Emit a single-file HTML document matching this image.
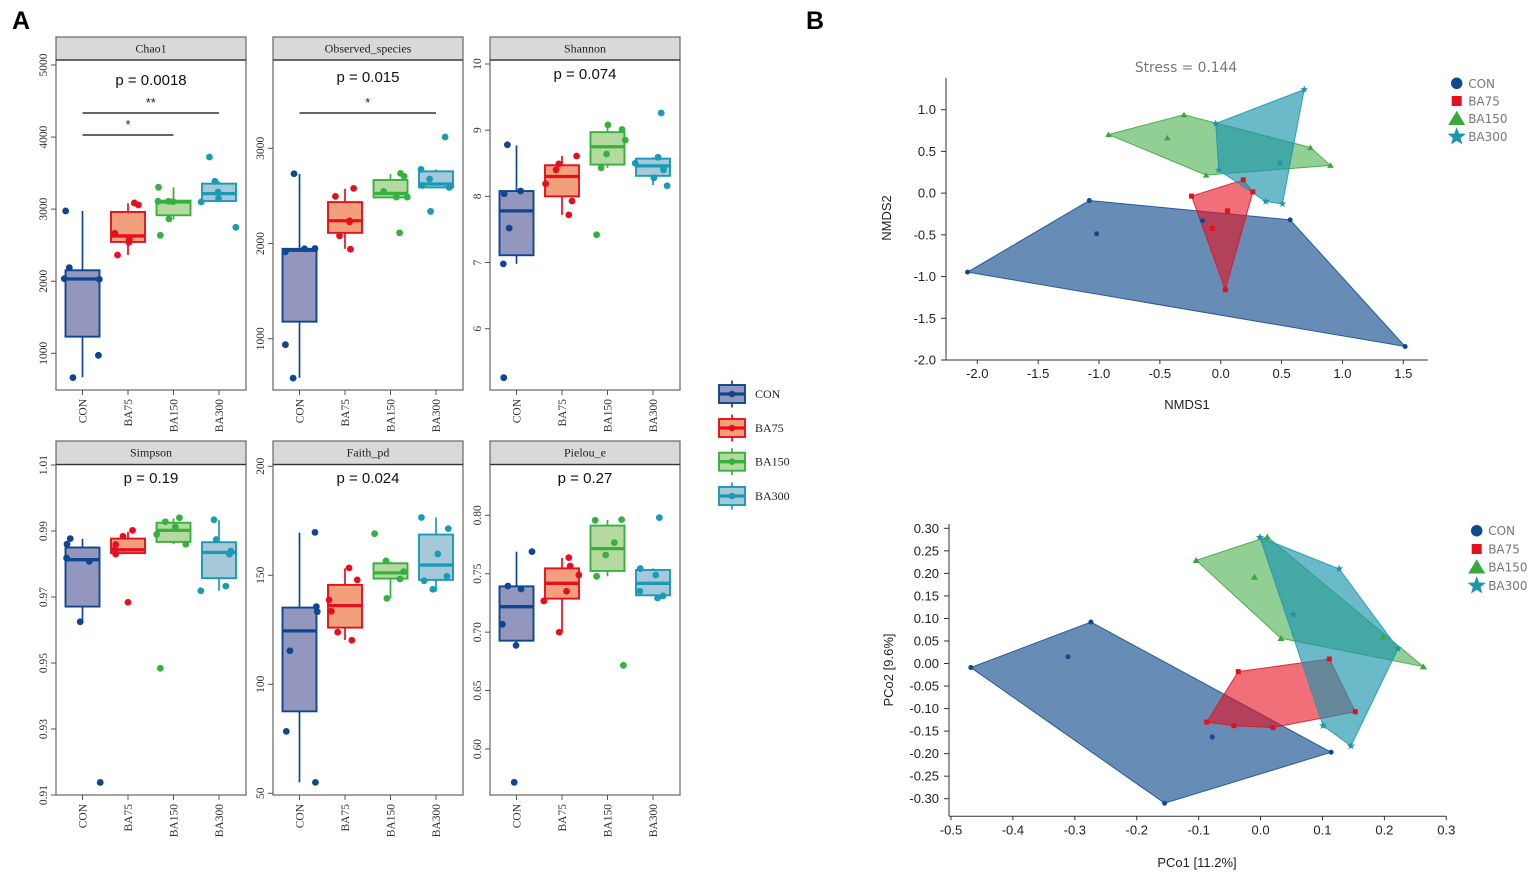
<!DOCTYPE html>
<html lang="en">
<head>
<meta charset="utf-8">
<title>Alpha diversity boxplots with NMDS and PCoA ordinations</title>
<style>
  html, body { margin: 0; padding: 0; background: #ffffff; }
  svg { display: block; filter: blur(0.35px); }
  text { font-family: "Liberation Sans", sans-serif; }
</style>
</head>
<body>
<svg id="figure" xmlns="http://www.w3.org/2000/svg" width="1535" height="879" viewBox="0 0 1535 879">
  <text x="12" y="29" font-size="25" font-weight="700" fill="#000">A</text>
  <text x="806" y="29" font-size="25" font-weight="700" fill="#000">B</text>
  <text x="1186" y="72" text-anchor="middle" font-size="13.8" fill="#777" style="font-family:'DejaVu Sans',sans-serif">Stress = 0.144</text>
  <text x="1187" y="409" text-anchor="middle" font-size="13" fill="#222">NMDS1</text>
  <text transform="translate(891 218) rotate(-90)" text-anchor="middle" font-size="13" fill="#222">NMDS2</text>
  <text x="1197" y="867" text-anchor="middle" font-size="13" fill="#222">PCo1 [11.2%]</text>
  <text transform="translate(893 670) rotate(-90)" text-anchor="middle" font-size="13" fill="#222">PCo2 [9.6%]</text>
</svg>
<script>
// ---------- Shared categories ----------
const categories = ['CON', 'BA75', 'BA150', 'BA300'];

// ---------- Chao1 ----------
const chao1Ticks = ['1000', '2000', '3000', '4000', '5000'];
// each box: [whisker low, q1, median, q3, whisker high]
const chao1Boxes = [[667, 1231, 2031, 2152, 2975], [2364, 2545, 2628, 2961, 3081], [2859, 2915, 3100, 3118, 3303], [3113, 3113, 3215, 3354, 3386]];
const chao1Points = [[2975, 2189, 2036, 2027, 972, 663], [2665, 3086, 3058, 2540, 2364, 2582], [3303, 3109, 3109, 3104, 2864, 2637], [3724, 3386, 3238, 3150, 3100, 2748]];
const chao1Jitter = [[-.37, -.29, -.40, .37, .35, -.21], [-.29, .14, .23, .02, -.23, .03], [-.33, -.34, -.11, -.01, -.10, -.29], [-.21, -.09, -.02, -.01, -.39, .37]];
const chao1Brackets = [[0, 3, 4334, '**'], [0, 2, 4029, '*']];

// ---------- Observed species ----------
const observedTicks = ['1000', '2000', '3000'];
const observedBoxes = [[589, 1179, 1930, 1944, 2730], [1944, 2112, 2239, 2435, 2575], [2484, 2484, 2526, 2667, 2730], [2589, 2589, 2625, 2758, 2779]];
const observedPoints = [[2733, 1912, 1944, 1947, 937, 586], [2579, 2495, 2239, 2228, 2081, 1940], [2737, 2705, 2547, 2488, 2488, 2112], [2779, 2677, 2610, 2589, 3119, 2337]];
const observedJitter = [[-.12, -.31, .11, .34, -.31, -.14], [.19, -.21, .10, .10, -.12, .12], [.22, .30, -.15, .13, .37, .20], [-.33, -.14, -.30, .29, .20, -.12]];
const observedBrackets = [[0, 3, 3371, '*']];

// ---------- Shannon ----------
const shannonTicks = ['6', '7', '8', '9', '10'];
const shannonBoxes = [[6.98, 7.11, 7.78, 8.08, 8.77], [7.72, 8.0, 8.30, 8.47, 8.61], [8.43, 8.48, 8.75, 8.97, 9.08], [8.17, 8.31, 8.46, 8.57, 8.59]];
const shannonPoints = [[8.78, 8.08, 8.04, 7.52, 6.98, 5.26], [8.61, 8.49, 8.40, 8.19, 7.93, 7.72], [9.08, 9.01, 8.85, 8.64, 8.43, 7.42], [9.26, 8.59, 8.50, 8.40, 8.28, 8.16]];
const shannonJitter = [[-.20, .09, -.27, -.16, -.29, -.28], [.32, -.07, -.13, -.36, .22, .15], [.01, .32, .39, -.02, -.14, -.24], [.18, .11, -.39, .23, .02, .31]];

// ---------- Simpson ----------
const simpsonTicks = ['0.91', '0.93', '0.95', '0.97', '0.99', '1.01'];
const simpsonBoxes = [[.9625, .9671, .9813, .985, .9876], [.9833, .9833, .9843, .9877, .9898], [.986, .9867, .9902, .9925, .9938], [.9719, .9757, .9835, .9866, .9933]];
const simpsonPoints = [[.9877, .986, .9818, .9808, .9625, .9138], [.9902, .9884, .9859, .9844, .983, .9684], [.994, .9928, .9912, .989, .986, .9484], [.9934, .9874, .9839, .983, .9733, .9719]];
const simpsonJitter = [[-.27, -.34, -.35, .15, -.05, .39], [.10, -.11, -.27, -.29, -.27, 0], [.13, -.18, .04, -.37, .27, -.29], [-.11, -.06, .26, .23, .15, -.40]];

// ---------- Faith_pd ----------
const faithTicks = ['50', '100', '150', '200'];
const faithBoxes = [[55, 87.6, 124.5, 135.2, 169.6], [120.3, 126, 136.1, 145.6, 153.2], [139.4, 148.5, 151.1, 155.5, 156.3], [142.5, 147.9, 154.7, 168.7, 176.5]];
const faithPoints = [[169.7, 135.6, 133.3, 115.4, 78.4, 55], [153.4, 147.9, 138.7, 133.5, 123.9, 120.2], [156.6, 151.7, 148.3, 139.4, 169.1], [176.5, 171.4, 159.8, 149.5, 147.5, 143.6]];
const faithJitter = [[.34, .37, .39, -.21, -.29, .35], [.09, .27, -.35, -.30, -.16, .15], [-.10, .29, .21, -.08, -.35], [-.32, .27, .04, .24, -.26, -.07]];

// ---------- Pielou_e ----------
const pielouTicks = ['0.60', '0.65', '0.70', '0.75', '0.80'];
const pielouBoxes = [[.6887, .6927, .7218, .7392, .7689], [.6999, .7287, .7418, .7546, .7635], [.7478, .7524, .7715, .7912, .796], [.7315, .7315, .7418, .7532, .7546]];
const pielouPoints = [[.7689, .7395, .7369, .7067, .6887, .5715], [.7638, .7566, .7489, .735, .7267, .6999], [.7957, .7963, .7766, .766, .7478, .6716], [.798, .7544, .7489, .735, .7292, .731]];
const pielouJitter = [[.34, -.19, .10, -.31, -.01, -.05], [.15, .18, .37, .10, -.40, -.06], [-.27, .31, .15, -.04, -.24, .35], [.14, -.28, .06, -.29, .10, .22]];

// ---------- NMDS scatter ----------
const nmdsXTicks = ['-2.0', '-1.5', '-1.0', '-0.5', '0.0', '0.5', '1.0', '1.5'];
const nmdsYTicks = ['-2.0', '-1.5', '-1.0', '-0.5', '0.0', '0.5', '1.0'];
const nmdsCon = [[-2.08, -.947], [-1.08, -.088], [.57, -.32], [1.515, -1.838], [-.15, -.33], [-1.02, -.487]];
const nmdsBa75 = [[-.24, -.036], [.185, .16], [.264, .016], [.038, -1.158], [.055, -.212], [-.069, -.423]];
const nmdsBa150 = [[-.922, .703], [-.302, .939], [.737, .547], [.902, .332], [-.12, .216], [-.439, .663]];
const nmdsBa300 = [[.686, 1.242], [-.041, .835], [-.017, .276], [.37, -.1], [.507, -.128], [.487, .364]];

// ---------- PCoA scatter ----------
const pcoaXTicks = ['-0.5', '-0.4', '-0.3', '-0.2', '-0.1', '0.0', '0.1', '0.2', '0.3'];
const pcoaYTicks = ['-0.30', '-0.25', '-0.20', '-0.15', '-0.10', '-0.05', '0.00', '0.05', '0.10', '0.15', '0.20', '0.25', '0.30'];
const pcoaCon = [[-.468, -.009], [-.274, .092], [.114, -.197], [-.155, -.31], [-.311, .015], [-.078, -.163]];
const pcoaBa75 = [[-.087, -.130], [-.043, -.138], [.020, -.142], [.153, -.107], [.111, .010], [-.036, -.018]];
const pcoaBa150 = [[-.104, .229], [.011, .281], [.263, -.007], [.033, .056], [-.010, .192], [.198, .059]];
const pcoaBa300 = [[-.001, .280], [.127, .210], [.222, .033], [.146, -.183], [.101, -.138], [.053, .109]];

// ---------- Styling and layout ----------
const strokeColors = ['#0f4690', '#e60f1e', '#36b03e', '#1a9ab6'];
const boxFills = ['#9397be', '#f2a07c', '#b6d99f', '#a6c9d9'];
const scatterColors = ['#0f4a8c', '#e60f1e', '#38a83c', '#1b95ae'];
const scatterOpacity = [0.63, 0.6, 0.55, 0.65];

const svg = document.getElementById('figure');
const NS = 'http://www.w3.org/2000/svg';
function make(tag, attrs, parent) {
  const node = document.createElementNS(NS, tag);
  for (const k in attrs) node.setAttribute(k, attrs[k]);
  (parent || svg).appendChild(node);
  return node;
}
function linearScale(d0, p0, d1, p1) {
  return function (v) { return p0 + (v - d0) * (p1 - p0) / (d1 - d0); };
}

// ---------- Box panels ----------
const panels = [
  { name: 'chao1', title: 'Chao1', p: 'p = 0.0018', x0: 56, top: 37, strip: 60, bottom: 390, pY: 85, d: [5000, 65, 1000, 353.3], ticks: chao1Ticks, boxes: chao1Boxes, points: chao1Points, jitter: chao1Jitter, brackets: chao1Brackets },
  { name: 'observed-species', title: 'Observed_species', p: 'p = 0.015', x0: 273, top: 37, strip: 60, bottom: 390, pY: 82, d: [3000, 148.3, 1000, 338.7], ticks: observedTicks, boxes: observedBoxes, points: observedPoints, jitter: observedJitter, brackets: observedBrackets },
  { name: 'shannon', title: 'Shannon', p: 'p = 0.074', x0: 490, top: 37, strip: 60, bottom: 390, pY: 79, d: [10, 64, 6, 328.7], ticks: shannonTicks, boxes: shannonBoxes, points: shannonPoints, jitter: shannonJitter, brackets: [] },
  { name: 'simpson', title: 'Simpson', p: 'p = 0.19', x0: 56, top: 441, strip: 464.5, bottom: 795, pY: 483, d: [1.01, 465, .91, 795], ticks: simpsonTicks, boxes: simpsonBoxes, points: simpsonPoints, jitter: simpsonJitter, brackets: [] },
  { name: 'faith-pd', title: 'Faith_pd', p: 'p = 0.024', x0: 273, top: 441, strip: 464.5, bottom: 795, pY: 483, d: [200, 466.3, 50, 793.3], ticks: faithTicks, boxes: faithBoxes, points: faithPoints, jitter: faithJitter, brackets: [] },
  { name: 'pielou-e', title: 'Pielou_e', p: 'p = 0.27', x0: 490, top: 441, strip: 464.5, bottom: 795, pY: 483, d: [.80, 515.3, .60, 749], ticks: pielouTicks, boxes: pielouBoxes, points: pielouPoints, jitter: pielouJitter, brackets: [] }
];
const PANEL_W = 190;
const CAT_STEP = 45.5;
const BOX_W = 34;
const SERIF = "'Liberation Serif', serif";

function drawBox(parent, cx, bw, yTop, yQ3, yMed, yQ1, yBot, i) {
  const whisker = make('line', { x1: cx, x2: cx, y1: yTop, y2: yBot, stroke: strokeColors[i], 'stroke-width': 1.7 }, parent);
  
  
  const rect = make('rect', { x: cx - bw / 2, y: yQ3, width: bw, height: Math.max(yQ1 - yQ3, 0.5), fill: boxFills[i], stroke: strokeColors[i], 'stroke-width': 1.9 }, parent);
  
  
  const median = make('line', { x1: cx - bw / 2, x2: cx + bw / 2, y1: yMed, y2: yMed, stroke: strokeColors[i], 'stroke-width': 3.3 }, parent);
  
  
}

panels.forEach(function (cfg) {
  const g = make('g', {});
  
  
  const x0 = cfg.x0, x1 = x0 + PANEL_W;
  const y = linearScale(cfg.d[0], cfg.d[1], cfg.d[2], cfg.d[3]);
  const x = function (i) { return x0 + 26.5 + i * CAT_STEP; };

  const plotBg = make('rect', { x: x0, y: cfg.strip, width: PANEL_W, height: cfg.bottom - cfg.strip, fill: '#fff', stroke: '#666', 'stroke-width': 1.2 }, g);
  
  
  const strip = make('rect', { x: x0, y: cfg.top, width: PANEL_W, height: cfg.strip - cfg.top, fill: '#d9d9d9', stroke: '#666', 'stroke-width': 1.2 }, g);
  
  
  const stripLine = make('line', { x1: x0, x2: x1, y1: cfg.strip, y2: cfg.strip, stroke: '#333', 'stroke-width': 1.2 }, g);
  
  
  const stripText = make('text', { x: x0 + PANEL_W / 2, y: (cfg.top + cfg.strip) / 2 + 3.8, 'text-anchor': 'middle', 'font-size': 12, fill: '#222', style: 'font-family:' + SERIF }, g);
  stripText.textContent = cfg.title;
  
  

  cfg.ticks.forEach(function (label) {
    const py = y(parseFloat(label));
    const tick = make('line', { x1: x0 - 5, x2: x0, y1: py, y2: py, stroke: '#555', 'stroke-width': 1 }, g);
    
    
    const t = make('text', { transform: 'translate(' + (x0 - 9) + ' ' + py + ') rotate(-90)', 'text-anchor': 'middle', 'font-size': 11.5, fill: '#333', style: 'font-family:' + SERIF }, g);
    t.textContent = label;
    
    
  });

  categories.forEach(function (cat, i) {
    const px = x(i);
    const tick = make('line', { x1: px, x2: px, y1: cfg.bottom, y2: cfg.bottom + 5, stroke: '#555', 'stroke-width': 1 }, g);
    
    
    const t = make('text', { transform: 'translate(' + (px + 4) + ' ' + (cfg.bottom + 9) + ') rotate(-90)', 'text-anchor': 'end', 'font-size': 11.5, fill: '#333', style: 'font-family:' + SERIF }, g);
    t.textContent = cat;
    
    

    const b = cfg.boxes[i];
    drawBox(g, px, BOX_W, y(b[4]), y(b[3]), y(b[2]), y(b[1]), y(b[0]), i);

    cfg.points[i].forEach(function (v, k) {
      const dot = make('circle', { cx: px + cfg.jitter[i][k] * CAT_STEP, cy: y(v), r: 3.4, fill: strokeColors[i] }, g);
      
      
    });
  });

  const pLabel = make('text', { x: x0 + PANEL_W / 2, y: cfg.pY, 'text-anchor': 'middle', 'font-size': 15, fill: '#111' }, g);
  pLabel.textContent = cfg.p;
  
  

  cfg.brackets.forEach(function (br) {
    const by = y(br[2]);
    const line = make('line', { x1: x(br[0]), x2: x(br[1]), y1: by, y2: by, stroke: '#333', 'stroke-width': 1.5 }, g);
    
    
    const s = make('text', { x: (x(br[0]) + x(br[1])) / 2, y: by - 6, 'text-anchor': 'middle', 'font-size': 13, fill: '#222' }, g);
    s.textContent = br[3];
    
    
  });
});

// ---------- Box legend ----------
const boxLegend = make('g', {});


const boxLegendCenters = [394, 428, 461.7, 496];
categories.forEach(function (cat, i) {
  const cy = boxLegendCenters[i];
  drawBox(boxLegend, 732, 26, cy - 13.5, cy - 9, cy, cy + 9, cy + 13.5, i);
  const dot = make('circle', { cx: 732, cy: cy, r: 3.3, fill: strokeColors[i] }, boxLegend);
  
  
  const t = make('text', { x: 755, y: cy + 4, 'font-size': 12, fill: '#222', style: 'font-family:' + SERIF }, boxLegend);
  t.textContent = cat;
  
  
});

// ---------- Scatter helpers ----------
function starPath(cx, cy, r) {
  let d = '';
  for (let i = 0; i < 10; i++) {
    const rad = i % 2 === 0 ? r : r * 0.42;
    const a = -Math.PI / 2 + i * Math.PI / 5;
    d += (i ? 'L' : 'M') + (cx + rad * Math.cos(a)).toFixed(2) + ' ' + (cy + rad * Math.sin(a)).toFixed(2);
  }
  return d + 'Z';
}
function drawMarker(parent, kind, cx, cy, size) {
  const color = scatterColors[kind];
  let node;
  if (kind === 0) node = make('circle', { cx: cx, cy: cy, r: size * 0.5, fill: color }, parent);
  else if (kind === 1) node = make('rect', { x: cx - size * 0.5, y: cy - size * 0.5, width: size, height: size, fill: color }, parent);
  else if (kind === 2) node = make('path', { d: 'M' + cx + ' ' + (cy - size * 0.6) + 'L' + (cx + size * 0.65) + ' ' + (cy + size * 0.5) + 'L' + (cx - size * 0.65) + ' ' + (cy + size * 0.5) + 'Z', fill: color }, parent);
  else node = make('path', { d: starPath(cx, cy, size * 0.8), fill: color }, parent);
  return node;
}
function convexHull(points) {
  const pts = points.slice().sort(function (a, b) { return a[0] - b[0] || a[1] - b[1]; });
  const cross = function (o, a, b) { return (a[0] - o[0]) * (b[1] - o[1]) - (a[1] - o[1]) * (b[0] - o[0]); };
  const lower = [], upper = [];
  pts.forEach(function (p) {
    while (lower.length > 1 && cross(lower[lower.length - 2], lower[lower.length - 1], p) <= 0) lower.pop();
    lower.push(p);
  });
  pts.slice().reverse().forEach(function (p) {
    while (upper.length > 1 && cross(upper[upper.length - 2], upper[upper.length - 1], p) <= 0) upper.pop();
    upper.push(p);
  });
  lower.pop(); upper.pop();
  return lower.concat(upper);
}

function drawScatter(cfg) {
  const g = make('g', {});
  
  
  const x = linearScale(cfg.xd[0], cfg.xd[1], cfg.xd[2], cfg.xd[3]);
  const y = linearScale(cfg.yd[0], cfg.yd[1], cfg.yd[2], cfg.yd[3]);

  cfg.series.forEach(function (pts, i) {
    const hull = convexHull(pts).map(function (p) { return x(p[0]).toFixed(2) + ',' + y(p[1]).toFixed(2); }).join(' ');
    const poly = make('polygon', { points: hull, fill: scatterColors[i], 'fill-opacity': scatterOpacity[i], stroke: scatterColors[i], 'stroke-width': 1, 'stroke-opacity': 0.85 }, g);
    
    
  });
  cfg.series.forEach(function (pts, i) {
    pts.forEach(function (p) {
      const m = drawMarker(g, i, x(p[0]), y(p[1]), cfg.markerSizes[i]);
      
      
    });
  });

  const yAxis = make('line', { x1: cfg.left, x2: cfg.left, y1: cfg.top, y2: cfg.bottom, stroke: '#333', 'stroke-width': 1 }, g);
  
  
  const xAxis = make('line', { x1: cfg.left, x2: cfg.right, y1: cfg.bottom, y2: cfg.bottom, stroke: '#333', 'stroke-width': 1 }, g);
  
  

  cfg.xTicks.forEach(function (label) {
    const px = x(parseFloat(label));
    const tick = make('line', { x1: px, x2: px, y1: cfg.bottom, y2: cfg.bottom + 4, stroke: '#333', 'stroke-width': 1 }, g);
    
    
    const t = make('text', { x: px, y: cfg.bottom + 18, 'text-anchor': 'middle', 'font-size': 13, fill: '#222' }, g);
    t.textContent = label;
    
    
  });
  cfg.yTicks.forEach(function (label) {
    const py = y(parseFloat(label));
    const tick = make('line', { x1: cfg.left - 5, x2: cfg.left, y1: py, y2: py, stroke: '#333', 'stroke-width': 1 }, g);
    
    
    const t = make('text', { x: cfg.left - 10, y: py + 4.5, 'text-anchor': 'end', 'font-size': 13, fill: '#222' }, g);
    t.textContent = label;
    
    
  });

  const legend = make('g', {}, g);
  
  
  categories.forEach(function (cat, i) {
    const ly = cfg.legendY[i];
    const m = drawMarker(legend, i, cfg.legendX, ly, [11.5, 10, 13, 12][i]);
    
    
    const t = make('text', { x: cfg.legendX + 11.5, y: ly + 4.5, 'font-size': 12, fill: '#777', style: "font-family:'DejaVu Sans',sans-serif" }, legend);
    t.textContent = cat;
    
    
  });
}

drawScatter({
  name: 'nmds-plot', left: 946, right: 1427.7, top: 78, bottom: 360,
  xd: [-2, 977.3, 1.5, 1403.3], yd: [1, 109.7, -2, 360],
  xTicks: nmdsXTicks, yTicks: nmdsYTicks,
  series: [nmdsCon, nmdsBa75, nmdsBa150, nmdsBa300],
  markerSizes: [5, 5, 5, 5],
  legendX: 1456.7, legendY: [83.3, 101, 118.5, 136.7]
});
drawScatter({
  name: 'pcoa-plot', left: 949, right: 1446.3, top: 524, bottom: 816.3,
  xd: [-.5, 951, .3, 1446.3], yd: [.30, 528.3, -.30, 798.7],
  xTicks: pcoaXTicks, yTicks: pcoaYTicks,
  series: [pcoaCon, pcoaBa75, pcoaBa150, pcoaBa300],
  markerSizes: [5, 5, 5.5, 5.3],
  legendX: 1476.7, legendY: [530.7, 549, 567, 585.7]
});
</script>
</body>
</html>
